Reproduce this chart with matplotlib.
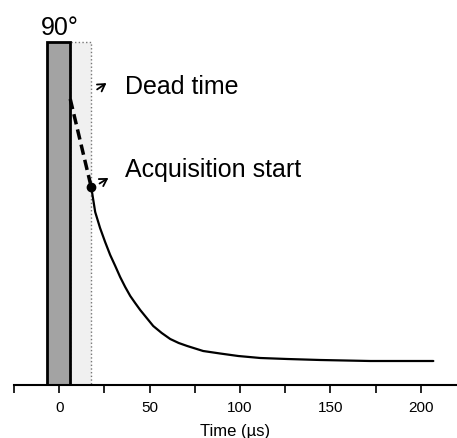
import matplotlib
matplotlib.use("Agg")
import matplotlib.pyplot as plt
from matplotlib.patches import Rectangle

plt.rcParams['font.family'] = ['Liberation Sans', 'DejaVu Sans']

# Data (x in microseconds, y in arbitrary signal units)
pulse_start = -6.6
pulse_end = 6.1
dead_end = 17.7
pulse_height = 343

dash_t = [6.1, 17.7]
dash_y = [286, 198]

curve_t = [17.7, 19.9, 22.6, 25.4, 28.2, 31.0, 33.7, 36.5, 39.3, 42.0, 44.8, 48.4,
           52.0, 56.7, 61.4, 66.1, 70.8, 79.6, 89.0, 99.0, 111.2, 126.1, 144.4,
           172.0, 206.9]
curve_y = [198, 173, 157, 143, 130, 119, 108, 98, 89, 82, 75, 67,
           59, 52, 46, 42, 39, 34, 31.5, 29, 27, 26, 25,
           24, 24]

xticks = [0, 50, 100, 150, 200]
minor_ticks = [-25, 25, 75, 125, 175]

fig = plt.figure(figsize=(4.57, 4.39), dpi=100)
ax = fig.add_axes([14/457, 53/439, 443/457, 386/439])
ax.set_xlim(-25, 220)
ax.set_ylim(0, 386)

# Dead time box
ax.add_patch(Rectangle((pulse_end, 0), dead_end - pulse_end, pulse_height,
                       facecolor='#f0f0f0', edgecolor='#777777', linestyle=':', linewidth=1.0, zorder=1))
# Pulse box
ax.add_patch(Rectangle((pulse_start, 0), pulse_end - pulse_start, pulse_height,
                       facecolor='#a3a3a3', edgecolor='black', linewidth=2.0, zorder=2))

ax.plot(dash_t, dash_y, color='black', linestyle=(0, (3, 1.5)), linewidth=2.5, zorder=3)
ax.plot(curve_t, curve_y, color='black', linewidth=1.6, zorder=3,
        solid_joinstyle='round', solid_capstyle='round')
ax.plot([dash_t[1]], [dash_y[1]], 'o', color='black', markersize=6, zorder=4)

ax.text(0.5, 346, '90°', ha='center', va='bottom', fontsize=18)
ax.text(36.5, 299, 'Dead time', ha='left', va='center', fontsize=18)
ax.text(36.5, 216, 'Acquisition start', ha='left', va='center', fontsize=18)

ax.annotate('', xy=(27.4, 303.5), xytext=(19.7, 294),
            arrowprops=dict(arrowstyle='->,head_length=0.5,head_width=0.3', color='black', lw=1.3))
ax.annotate('', xy=(28.5, 208.5), xytext=(21.0, 200),
            arrowprops=dict(arrowstyle='->,head_length=0.5,head_width=0.3', color='black', lw=1.3))

for s in ['top', 'right', 'left']:
    ax.spines[s].set_visible(False)
ax.spines['bottom'].set_linewidth(1.5)
ax.set_yticks([])
ax.set_xticks(xticks)
ax.set_xticks(minor_ticks, minor=True)
ax.tick_params(axis='x', which='both', length=6, width=1.2, labelsize=11, pad=5)
ax.set_xlabel('Time (µs)', fontsize=12, labelpad=6)

fig.savefig('out.png', dpi=100)
